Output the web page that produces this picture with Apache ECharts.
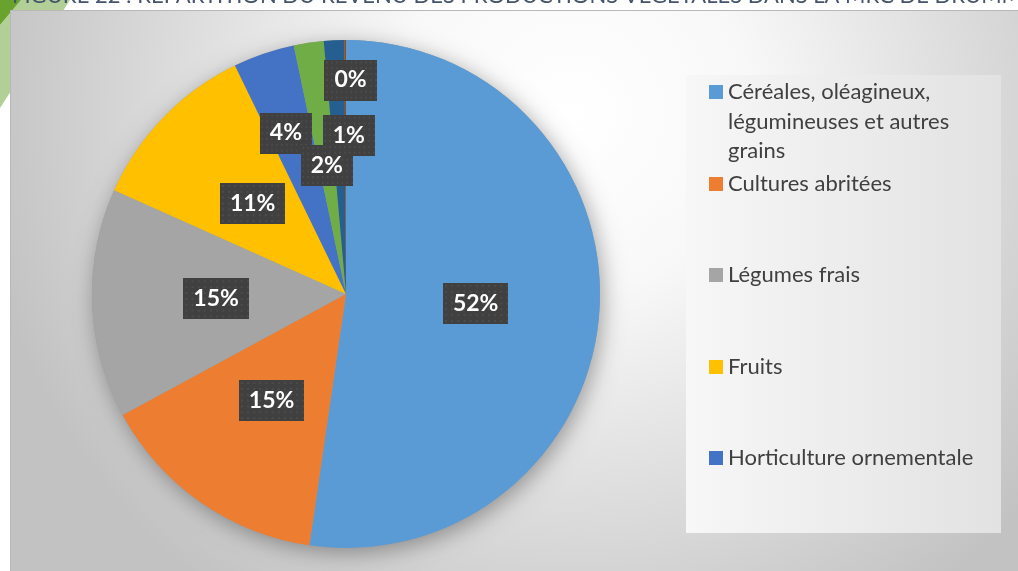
<!DOCTYPE html>
<html>
<head>
<meta charset="utf-8">
<script src="https://cdn.jsdelivr.net/npm/echarts@6/dist/echarts.min.js"></script>
<style>
  html, body { margin: 0; padding: 0; background: #fff; }
  #chart { width: 1018px; height: 571px; }
</style>
</head>
<body>
<div id="chart"></div>
<script>
"use strict";

// ---------- données ----------
const categories = [
  "Céréales, oléagineux, légumineuses et autres grains",
  "Cultures abritées",
  "Légumes frais",
  "Fruits",
  "Horticulture ornementale",
  "Autres productions 1",
  "Autres productions 2",
  "Autres productions 3",
];
const shares = [52.3, 14.8, 14.6, 11.1, 3.9, 1.9, 1.3, 0.1];
// seules les 5 premières entrées sont visibles dans la légende
const legendNames = categories.slice(0, 5);
const titleText = "FIGURE 22 : RÉPARTITION DU REVENU DES PRODUCTIONS VÉGÉTALES DANS LA MRC DE DRUMMOND";

// ---------- style ----------
const palette = ["#5B9BD5", "#ED7D31", "#A5A5A5", "#FFC000", "#4472C4", "#70AD47", "#255E91", "#9E480E"];
// déplacement des étiquettes qui se chevauchent (comme Excel)
const labelNudge = [null, null, null, null, [-18, -38], null, [9, -29], [5, -84]];
const FONT = "Lato, 'Open Sans', sans-serif";

// fond pointillé des étiquettes
function dotPattern() {
  const c = document.createElement("canvas");
  c.width = 64; c.height = 42;
  const g = c.getContext("2d");
  g.fillStyle = "#404040";
  g.fillRect(0, 0, 64, 42);
  g.fillStyle = "#4c4c4c";
  for (let y = 2; y < 42; y += 6) for (let x = 2; x < 64; x += 6) g.fillRect(x, y, 2, 2);
  return c;
}

const pieData = categories.map((name, i) => {
  const d = { name, value: shares[i], itemStyle: { color: palette[i] } };
  if (labelNudge[i]) d.label = { offset: labelNudge[i] };
  return d;
});

const legendTextBase = { color: "#404040", fontFamily: FONT, fontSize: 22, lineHeight: 29 };
const legendIconY = [92, 184, 275, 367, 458];
const legends = legendNames.map((n, i) => {
  const first = i === 0;
  return {
    data: [n],
    orient: "vertical",
    left: 709,
    top: first ? 92 - 73.75 : legendIconY[i] - 14.5,
    padding: 0,
    itemWidth: 14,
    itemHeight: 14,
    icon: "rect",
    selectedMode: false,
    // première entrée sur 3 lignes : deux lignes vides en tête pour aligner le carré sur la 1re ligne
    formatter: first ? (name) => "\n\n" + name.replace(", lég", ",\nlég").replace(" grains", "\ngrains") : "{name}",
    textStyle: first ? Object.assign({}, legendTextBase, { lineHeight: 29.5 }) : legendTextBase,
  };
});

const chart = echarts.init(document.getElementById("chart"));
chart.setOption({
  animation: false,
  graphic: [
    { type: "polygon", shape: { points: [[21, 0], [70, 0], [0, 108], [0, 25]] }, style: { fill: "#b3cf98" }, z: -10 },
    { type: "polygon", shape: { points: [[0, 0], [21, 0], [0, 25]] }, style: { fill: "#6aa22e" }, z: -10 },
    {
      type: "text", x: 12, y: -15, z: -9,
      style: { text: titleText, fill: "#44546A", font: "22px " + FONT, verticalAlign: "top" },
    },
    {
      type: "rect", z: -8,
      shape: { x: 10.5, y: 10.5, width: 1020, height: 570 },
      style: {
        fill: new echarts.graphic.RadialGradient(0.55, 0.18, 1.05, [
          { offset: 0, color: "#ffffff" },
          { offset: 0.3, color: "#f8f8f8" },
          { offset: 1, color: "#c2c2c2" },
        ]),
        stroke: "#b8b8b8", lineWidth: 1,
      },
    },
    {
      type: "rect", z: -7,
      shape: { x: 686, y: 75, width: 315, height: 458 },
      style: {
        fill: new echarts.graphic.LinearGradient(0, 0, 1, 0, [
          { offset: 0, color: "#f7f7f7" },
          { offset: 1, color: "#e2e2e2" },
        ]),
      },
    },
  ],
  legend: legends,
  series: [
    {
      // ombre portée du disque
      type: "pie", silent: true, z: 1,
      center: [346, 294], radius: 254,
      data: [{ value: 1, name: "" }],
      itemStyle: { color: "#9a9a9a", shadowBlur: 22, shadowColor: "rgba(0,0,0,0.35)", shadowOffsetX: 3, shadowOffsetY: 5 },
      label: { show: false }, labelLine: { show: false },
      emphasis: { disabled: true },
    },
    {
      type: "pie", z: 2,
      center: [346, 294], radius: 254,
      startAngle: 90, clockwise: true,
      avoidLabelOverlap: false,
      data: pieData,
      itemStyle: { borderWidth: 0 },
      label: {
        show: true, position: "inside", rotate: 0,
        formatter: (p) => Math.round(p.percent) + "%",
        color: "#fff", fontFamily: FONT, fontWeight: "bold", fontSize: 23, lineHeight: 22,
        backgroundColor: { image: dotPattern() },
        padding: [10, 10, 9, 10],
        shadowColor: "rgba(0,0,0,0.45)", shadowBlur: 6, shadowOffsetX: 3, shadowOffsetY: 3,
      },
      labelLine: { show: false },
      labelLayout: { hideOverlap: false },
      emphasis: { disabled: true },
    },
  ],
});
</script>
</body>
</html>
